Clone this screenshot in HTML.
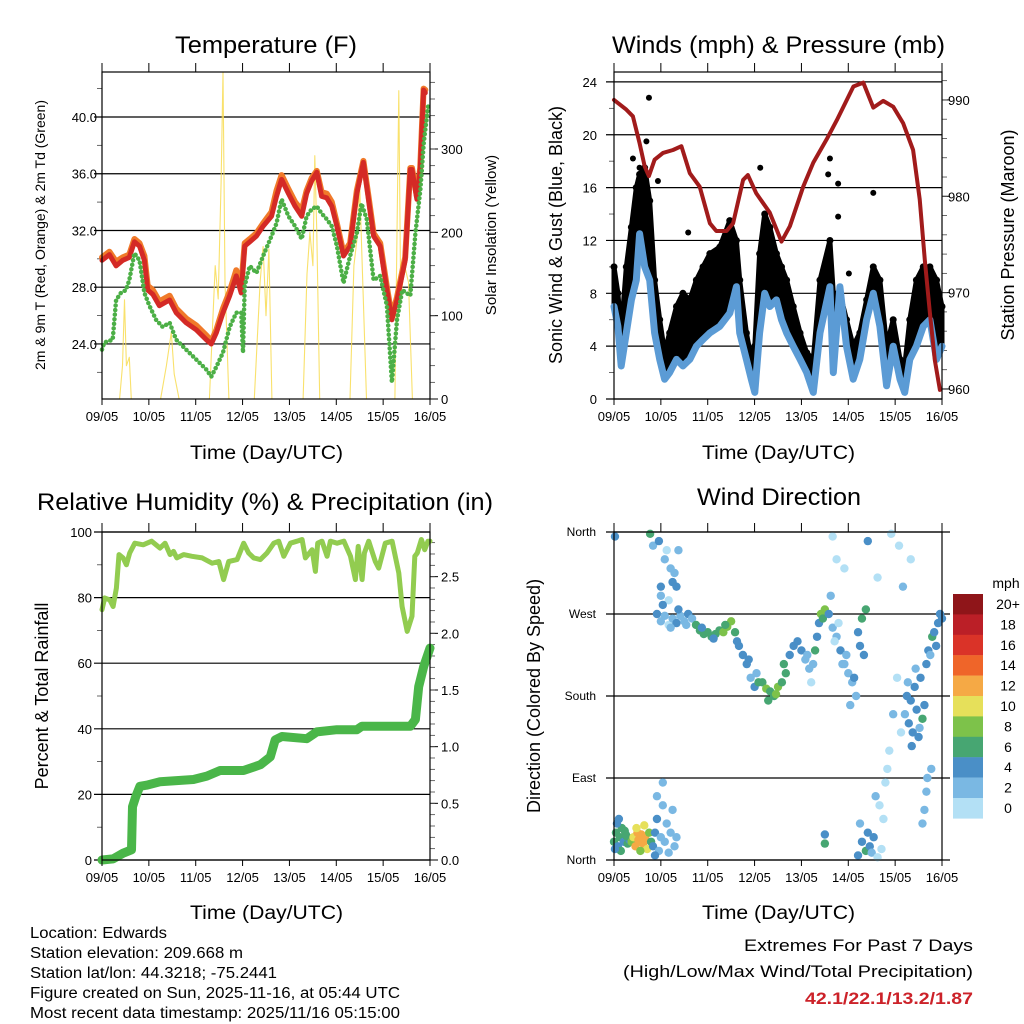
<!DOCTYPE html>
<html><head><meta charset="utf-8"><style>
html,body{margin:0;padding:0;background:#fff;}
svg{display:block;font-family:"Liberation Sans",sans-serif;}
</style></head><body>
<svg id="chart" width="1024" height="1024" viewBox="0 0 1024 1024" xmlns="http://www.w3.org/2000/svg">
<rect x="0" y="0" width="1024" height="1024" fill="#fff"/>
<g id="layer"></g>
<g font-size="24" fill="#000" lengthAdjust="spacingAndGlyphs">
<text x="175" y="53" textLength="182" lengthAdjust="spacingAndGlyphs">Temperature (F)</text>
<text x="612" y="53" textLength="333" lengthAdjust="spacingAndGlyphs">Winds (mph) &amp; Pressure (mb)</text>
<text x="37" y="510" textLength="456" lengthAdjust="spacingAndGlyphs">Relative Humidity (%) &amp; Precipitation (in)</text>
<text x="697" y="505" textLength="164" lengthAdjust="spacingAndGlyphs">Wind Direction</text>
</g>
<g font-size="19">
<text x="190" y="459" textLength="153" lengthAdjust="spacingAndGlyphs">Time (Day/UTC)</text>
<text x="702" y="459" textLength="153" lengthAdjust="spacingAndGlyphs">Time (Day/UTC)</text>
<text x="190" y="919" textLength="153" lengthAdjust="spacingAndGlyphs">Time (Day/UTC)</text>
<text x="702" y="919" textLength="153" lengthAdjust="spacingAndGlyphs">Time (Day/UTC)</text>
</g>
<g font-size="18" text-anchor="middle">
<text transform="translate(45,235) rotate(-90)" font-size="14">2m &amp; 9m T (Red, Orange) &amp; 2m Td (Green)</text>
<text transform="translate(496,235) rotate(-90)" font-size="15">Solar Insolation (Yellow)</text>
<text transform="translate(562,235) rotate(-90)">Sonic Wind &amp; Gust (Blue, Black)</text>
<text transform="translate(1014,235) rotate(-90)">Station Pressure (Maroon)</text>
<text transform="translate(48,696) rotate(-90)">Percent &amp; Total Rainfall</text>
<text transform="translate(540,696) rotate(-90)">Direction (Colored By Speed)</text>
</g>
<g font-size="15.5">
<text x="30" y="938" textLength="137" lengthAdjust="spacingAndGlyphs">Location: Edwards</text>
<text x="30" y="958" textLength="213" lengthAdjust="spacingAndGlyphs">Station elevation: 209.668 m</text>
<text x="30" y="978" textLength="247" lengthAdjust="spacingAndGlyphs">Station lat/lon: 44.3218; -75.2441</text>
<text x="30" y="998" textLength="370" lengthAdjust="spacingAndGlyphs">Figure created on Sun, 2025-11-16, at 05:44 UTC</text>
<text x="30" y="1018" textLength="370" lengthAdjust="spacingAndGlyphs">Most recent data timestamp: 2025/11/16 05:15:00</text>
</g>
<g font-size="17">
<text x="744" y="951" textLength="229" lengthAdjust="spacingAndGlyphs">Extremes For Past 7 Days</text>
<text x="623" y="977" textLength="350" lengthAdjust="spacingAndGlyphs">(High/Low/Max Wind/Total Precipitation)</text>
<text x="805" y="1004" textLength="168" lengthAdjust="spacingAndGlyphs" fill="#cc2229" font-weight="bold">42.1/22.1/13.2/1.87</text>
</g>
</svg>
<script>
// ---------- data ----------
const dayLabels = ["09/05","10/05","11/05","12/05","13/05","14/05","15/05","16/05"];
const tempTimes = [0,3.8,7.2,10.6,14,16.6,19.2,21.7,23.4,26,29.4,34.6,38,43.1,48.3,53.4,56,58.6,62,65.4,68.8,71.3,73.1,75.7,79.1,82.5,86.8,89.4,92,95.5,98.9,102.3,104.8,107.4,110,112.5,115.1,117.7,120.3,123.7,127.1,130.5,133.9,136.5,139.1,142.5,145.9,148.5,151.1,155.3,157.9,158.8,161.3,163,164.7,165.6];
const tempRed = [29.9,30.3,29.5,29.9,30.1,31.2,30.9,29.9,27.8,27.5,26.7,27.1,26.2,25.5,25.0,24.3,24.0,24.8,26.2,27.4,28.8,27.6,30.9,31.2,31.6,32.3,33.0,34.4,35.6,34.6,33.7,33.0,34.6,35.5,36.1,34.4,34.3,33.7,32.3,30.2,30.9,34.6,36.8,34.2,31.6,30.9,27.8,25.7,27.1,29.9,36.3,36.3,34.2,36.3,41.9,41.7];
const tempOrange = [30.1,30.5,29.8,30.1,30.3,31.4,31.1,30.2,28.1,27.8,27.0,27.4,26.5,25.8,25.3,24.6,24.2,25.0,26.5,27.7,29.2,28.0,31.1,31.4,31.8,32.5,33.3,34.8,35.9,34.9,34.0,33.4,34.8,35.7,36.2,34.7,34.6,34.0,32.5,30.4,31.1,34.8,36.9,34.4,31.8,31.1,28.0,25.9,27.3,30.1,36.4,36.4,34.4,36.4,42.0,41.9];
const dewTimes = [0,1.2,5.5,7.2,9.7,12.3,14,16.6,19.2,21.7,24.3,27.7,31.1,34.6,38,43.1,48.3,53.4,56,58.6,62,65.4,68.8,71.3,72.2,73.1,75.7,79.1,82.5,86.8,89.4,92,95.5,98.9,102.3,104.8,107.4,110,112.5,115.1,117.7,120.3,123.7,127.1,130.5,132.9,135.6,139.1,142.5,145.9,148.5,151.1,153.8,157.9,160.5,163.1,164.8,167.1];
const dewGreen = [23.6,24.1,24.3,27.1,27.6,27.8,28.5,30.4,29.9,27.6,26.7,25.7,25.2,25.5,24.3,23.6,22.9,22.2,21.7,22.4,23.4,25.2,26.2,26.2,23.4,28.1,29.5,29.0,30.2,31.6,32.5,34.2,33.0,32.3,31.4,33.0,33.5,33.7,33.2,32.8,32.3,30.9,28.3,30.2,31.8,33.9,32.8,28.5,28.8,26.7,21.3,25.7,27.8,27.4,31.8,34.9,38.2,40.8];
const solarTimes = [0,9,10.5,11.5,12.5,14,15,30,33,35.5,37,39.5,55,58,59.5,61,62,63,65,78,81,82.5,84,85.5,87,103,105,106.5,108,109,110,111.5,127,129,131,132,133,135.5,150,152,153,155,157,159,168];
const solarVals = [0,0,40,119,40,50,0,0,40,80,30,0,0,160,120,260,392,140,0,0,140,183,100,180,0,0,150,200,160,292,200,0,0,160,200,256,180,0,0,370,120,160,140,0,0];

const windTimes = [0,2,3.7,6.3,8.9,11.4,13.1,15.7,18.3,20.8,23.4,25.9,28.5,32,35.3,38.8,42.2,45.6,49.1,54.2,59.3,62.7,64.4,67.8,70.3,72.1,74.6,77.2,79.8,83.2,85.8,88.4,91.8,95.3,98.7,102.1,105.5,110.6,112.3,115.7,119.1,122.5,125.9,129.4,132.8,136.2,139.6,143,146.5,148.9,151.5,154.9,158.4,161.8,165.2,168];
const windSustained = [7,5.5,2.5,5,7.5,9,12.5,10,9,5,3,1.5,2,3,2.5,3,4,4.5,5,5.5,6.5,8.5,5,3,1.5,0.5,5,8,7,7.5,6,5,4,3,2,0.5,5,8.5,2,8.5,4,1.5,3,6,8,5.5,1,4,1.5,0.5,3,4,5.5,6,3,4];
const windGust = [10,8,5,10,13,16,17,17.5,15,9,6,3.5,5,7,8,7.5,9,10,11,11.5,13.5,12,9,5,3,4,11,14,13,11,10,9,7,5,3.5,3,9,12,8,8,6,4,5,7.5,10,9,4,6,3,2.5,6,9,10,10,9,7];
const gustExtraTimes = [17.9,13.1,22.5,74.9,110.6,109.7,114.8,132.8,114.8,38,120.3,9.7,16.6];
const gustExtraVals = [22.8,17.5,16.5,17.5,18.2,17,16.3,15.6,13.8,12.6,9.5,18.2,19.5];
const pressTimes = [0,6.3,9.7,13.1,15.7,17.9,20.8,25.1,30.2,34.5,38.8,43.9,49.1,52.4,57.6,61,66.1,68.6,72.9,79.8,85.8,90.1,96.9,102.1,108.9,114.1,122.6,127.7,132.8,137.9,143,148.1,153.2,156.6,159.2,161.8,164.3,166.9];
const pressVals = [990,989,988.3,985.5,983.1,982.1,983.8,984.5,984.8,985.2,982.4,981,977.2,976.4,976.4,977.2,981.7,982.2,980.3,978.3,975.3,976.9,981,983.5,985.9,987.9,991.4,991.8,989.2,989.9,989.3,987.6,984.8,979.7,973.4,967.9,963,959.9];

const rhTimes = [0,1.4,4,5.7,7.4,8.7,10.8,12.5,14.2,16.8,21.1,25.4,29.7,32.3,34.9,36.6,38.3,41.8,46.1,51.3,56.4,59.8,62.3,64.9,69.2,72.6,75.1,77.7,81.1,84.5,88,90.5,93.1,96.5,99.9,102.5,104.2,107.6,109.3,110.5,112.7,115.3,117,120.4,123.9,127.3,129.8,131.2,133.2,134.4,136.6,140,141.7,145.1,148.6,152,153.7,156.3,158.8,160.2,161.5,163.6,165.3,167,168];
const rhVals = [76.3,79.9,79.3,77.3,82.9,93.1,92.1,90,93.6,96.6,96.1,97.2,95.1,96.6,93.1,94.1,92.1,93.1,92.6,92.1,90.5,91,85.5,91,91.6,96.6,93.6,92.1,91.6,93.6,96.6,97.2,92.6,96.6,97.2,97.7,92.1,94.6,88,96.6,97.2,92.6,97.2,96.6,97.2,92.6,85.5,95.6,85.5,93.6,97.2,91,89,96.6,97.2,87.5,77.3,69.7,74.3,92.6,93.6,97.7,94.6,97.2,97.2];
const rainTimes = [0,5.7,10.8,15.1,15.6,17.3,19.4,22.8,29.7,46.8,53.7,60.5,72.5,81.1,86.2,88.7,92.2,104.9,110,120.3,130.5,133.1,157.9,160.5,162.2,164.8,168];
const rainVals = [0,0.01,0.06,0.09,0.47,0.56,0.65,0.66,0.69,0.71,0.74,0.79,0.79,0.84,0.91,1.06,1.09,1.07,1.13,1.15,1.15,1.18,1.18,1.24,1.53,1.71,1.87];

const dirTimes = [0,1,2,3,4,5,6,7,8,1.5,3.5,5.5,0.5,2.5,6.5, 9,10,11,12,13,14,15,16,17,18,11.5,13.5,15.5,12.5,19, 20,21,22,23,24,25,26,27,28,22,25,29,30,31,32, 0.5,18.5,20,23,24,26,27,29,30,31,33,24,28,32, 22,24,26,28,30,32,34,36,38,40,25,29,33,37, 42,44,46,48,50,52,54,56,58,60,62,64,66,45,51,57,63, 68,70,72,74,69,73, 76,78,80,82,84,86,88,79,83,87, 90,92,94,96, 98,100,102,101,99, 103,104,105,106,107,108, 110,112,114,116,118,120,122,124,111,115,119,123,113,117,121, 125,126,127,128,129, 112,114,118,130,135,142,146,148,152, 125,127,129,130,131,132,133,135,137,126, 136,138,140,134,139, 141,143,145,147, 149,150,151,152,153,154,155,156,157,158,159,150.5,152.5,154.5,156.5, 160,161,162,163,164,165,166,167,168,162.5, 158,159,160,160.5, 108,108,21];
const dirDegs = [20,30,15,25,35,20,28,18,22,40,10,32,12,45,26, 20,25,15,30,20,28,18,24,12,30,35,10,38,22,20, 15,30,45,10,25,60,20,40,8,70,85,30,55,15,25, 355,358,345,350,300,330,340,320,305,315,340,290,285,300, 270,262,268,258,265,260,268,262,270,265,280,255,275,258, 258,252,248,250,245,248,252,250,256,262,250,235,225,255,243,258,240, 215,200,190,195,220,205, 195,188,185,180,190,195,205,175,182,215, 225,235,240,230, 220,210,215,195,225, 230,245,260,270,265,275, 270,255,245,230,215,205,195,180,290,260,225,200,240,215,170, 250,235,265,225,275, 355,330,320,350,310,358,345,300,330, 5,20,10,30,15,8,25,3,12,40, 60,45,100,70,85, 120,160,200,140, 160,180,150,175,140,190,165,135,200,155,170,195,125,210,145, 215,230,225,245,250,235,260,270,265,100, 40,55,75,90, 18,28,5];
const dirSpeeds = [6,6,4,6,6,4,6,6,4,4,6,6,4,4,6, 8,10,12,12,12,13,12,12,10,8,10,8,10,13,6, 4,4,4,2,2,2,2,2,2,2,2,2,2,2,2, 4,6,2,4,4,2,0,2,4,2,2,2,0,4, 4,2,2,0,2,4,2,2,4,2,4,2,4,2, 6,6,6,6,6,6,6,8,8,8,6,4,4,4,4,6,4, 4,2,4,6,4,2, 6,8,6,6,8,6,6,6,8,6, 4,4,4,4, 2,2,2,0,2, 6,4,4,8,6,8, 4,2,2,4,2,2,2,2,2,0,2,4,0,2,2, 4,4,6,4,6, 0,0,0,4,0,0,0,2,0, 4,4,6,4,4,2,4,0,0,2, 0,0,0,2,0, 0,2,0,0, 2,4,4,4,4,4,4,4,4,6,4,2,4,2,2, 4,4,2,6,4,4,4,4,4,2, 2,2,2,2, 6,4,4];
const speedLabels = ["20+","18","16","14","12","10","8","6","4","2","0"];
const speedColors = ["#8f1519","#bb1f27","#da3328","#ef6529","#f5a945","#e6e05a","#7dc24a","#47a672","#4a8fc7","#7ab8e3","#b3e0f5"];

// ---------- helpers ----------
const NS = "http://www.w3.org/2000/svg";
const layer = document.getElementById("layer");
function mk(tag, parent){ const e=document.createElementNS(NS,tag); (parent||layer).appendChild(e); return e; }
function scale(d0,d1,r0,r1){ return v => r0+(v-d0)*(r1-r0)/(d1-d0); }
function pts(ts,vs,xs,ys){ return ts.map((t,i)=>xs(t).toFixed(1)+","+ys(vs[i]).toFixed(1)).join(" "); }
function line(parent,ts,vs,xs,ys,color,w,name,extra){
  const p=mk("polyline",parent);
  
  
  p.setAttribute("points",pts(ts,vs,xs,ys));
  p.setAttribute("fill","none"); p.setAttribute("stroke",color); p.setAttribute("stroke-width",w);
  p.setAttribute("stroke-linejoin","round"); p.setAttribute("stroke-linecap","round");
  if(extra) p.setAttribute("stroke-dasharray",extra);
  return p;
}
function seg(parent,x1,y1,x2,y2,w,color){
  const l=mk("line",parent);
  l.setAttribute("x1",x1); l.setAttribute("y1",y1); l.setAttribute("x2",x2); l.setAttribute("y2",y2);
  l.setAttribute("stroke",color||"#000"); l.setAttribute("stroke-width",w||1);
  return l;
}
function txt(parent,x,y,s,anchor,size){
  const t=mk("text",parent);
  t.setAttribute("x",x); t.setAttribute("y",y); t.setAttribute("text-anchor",anchor||"middle");
  t.setAttribute("font-size",size||13); t.textContent=s; return t;
}
function panel(name,P){
  const g=mk("g");
  
  
  return g;
}
function frame(g,P,name){
  const r=mk("rect",g);
  
  
  r.setAttribute("x",P.x0); r.setAttribute("y",P.y0); r.setAttribute("width",P.x1-P.x0); r.setAttribute("height",P.y1-P.y0);
  r.setAttribute("fill","none"); r.setAttribute("stroke","#000"); r.setAttribute("stroke-width",1.2);
}
function xAxis(g,P,xs,name){
  const a=mk("g",g);
  
  
  dayLabels.forEach((d,i)=>{
    const x=xs(i*24);
    seg(a,x,P.y0-9,x,P.y0,1);
    seg(a,x,P.y1,x,P.y1+6,1);
    const t=txt(a,x,P.y1+22,d,"middle",13);
    
    
  });
}
function yAxis(g,P,ys,majors,minors,labels,side,grid,name,lx){
  const a=mk("g",g);
  
  
  majors.forEach((v,i)=>{
    const y=ys(v);
    if(side==="left"){
      if(grid) seg(a,P.x0-8,y,P.x1,y,1.2); else seg(a,P.x0-8,y,P.x0,y,1);
      const t=txt(a,lx,y+5,labels[i],"end",13);
      
      
    } else {
      seg(a,P.x1,y,P.x1+8,y,1);
      const t=txt(a,lx,y+5,labels[i],"start",13);
      
      
    }
  });
  minors.forEach(v=>{
    const y=ys(v);
    if(side==="left") seg(a,P.x0-5,y,P.x0,y,0.8,"#444"); else seg(a,P.x1,y,P.x1+5,y,0.8,"#444");
  });
}
function range(a,b,s){ const r=[]; for(let v=a;v<=b+1e-9;v+=s) r.push(+v.toFixed(3)); return r; }

// ---------- Panel 1: Temperature ----------
(function(){
  const P={x0:102,x1:430,y0:72,y1:399};
  const g=panel("temperature-panel",P);
  const xs=scale(0,168,P.x0,P.x1), ys=scale(20.12,43.17,P.y1,P.y0), ys2=scale(0,392.4,P.y1,P.y0);
  yAxis(g,P,ys,[24,28,32,36,40],[22,26,30,34,38,42],["24.0","28.0","32.0","36.0","40.0"],"left",true,"temp-y-axis",97);
  yAxis(g,P,ys2,[0,100,200,300],range(20,380,20),["0","100","200","300"],"right",false,"solar-y-axis",441);
  line(g,solarTimes,solarVals,xs,ys2,"#f8dc52",1.1,"solar-insolation-line").setAttribute("opacity","0.85");
  line(g,tempTimes,tempOrange,xs,ys,"#f07a2a",6,"temp-9m-orange-line");
  line(g,tempTimes,tempRed,xs,ys,"#d42a26",5,"temp-2m-red-line");
  line(g,dewTimes,dewGreen,xs,ys,"#4caf46",4.5,"dewpoint-green-line","0.1 4.5");
  frame(g,P,"temperature-plot-frame");
  xAxis(g,P,xs,"temp-x-axis");
})();

// ---------- Panel 2: Winds & Pressure ----------
(function(){
  const P={x0:614,x1:942,y0:72,y1:399};
  const g=panel("winds-panel",P);
  const xs=scale(0,168,P.x0,P.x1), ys=scale(0,24.75,P.y1,P.y0), ys2=scale(958.96,992.9,P.y1,P.y0);
  yAxis(g,P,ys,[0,4,8,12,16,20,24],[2,6,10,14,18,22],["0","4","8","12","16","20","24"],"left",true,"wind-y-axis",597);
  yAxis(g,P,ys2,[960,970,980,990],range(962,992,2),["960","970","980","990"],"right",false,"pressure-y-axis",948);
  const area=mk("polygon",g);
  
  
  const up=windTimes.map((t,i)=>xs(t).toFixed(1)+","+ys(windGust[i]).toFixed(1));
  const dn=windTimes.map((t,i)=>xs(t).toFixed(1)+","+ys(windSustained[i]).toFixed(1)).reverse();
  area.setAttribute("points",up.concat(dn).join(" "));
  area.setAttribute("fill","#000");
  area.setAttribute("stroke","#000");
  area.setAttribute("stroke-width","5");
  area.setAttribute("stroke-linejoin","round");
  windTimes.forEach((t,i)=>{
    const c=mk("circle",g);
    
    
    c.setAttribute("cx",xs(t)); c.setAttribute("cy",ys(windGust[i])); c.setAttribute("r",3.5); c.setAttribute("fill","#000");
  });
  gustExtraTimes.forEach((t,i)=>{
    const c=mk("circle",g);
    
    
    c.setAttribute("cx",xs(t)); c.setAttribute("cy",ys(gustExtraVals[i])); c.setAttribute("r",3); c.setAttribute("fill","#000");
  });
  line(g,windTimes,windSustained,xs,ys,"#5b9bd5",7,"sustained-wind-line");
  line(g,pressTimes,pressVals,xs,ys2,"#a11b1b",4,"pressure-line");
  frame(g,P,"winds-plot-frame");
  xAxis(g,P,xs,"winds-x-axis");
})();

// ---------- Panel 3: Humidity & Precip ----------
(function(){
  const P={x0:102,x1:430,y0:532,y1:860};
  const g=panel("humidity-panel",P);
  const xs=scale(0,168,P.x0,P.x1), ys=scale(0,100,P.y1,P.y0), ys2=scale(0,2.894,P.y1,P.y0);
  yAxis(g,P,ys,[0,20,40,60,80,100],[10,30,50,70,90],["0","20","40","60","80","100"],"left",true,"humidity-y-axis",92);
  yAxis(g,P,ys2,[0,0.5,1,1.5,2,2.5],range(0.1,2.8,0.1),["0.0","0.5","1.0","1.5","2.0","2.5"],"right",false,"rain-y-axis",441);
  line(g,rhTimes,rhVals,xs,ys,"#92cc50",5,"relative-humidity-line");
  line(g,rainTimes,rainVals,xs,ys2,"#4ab649",9,"total-rainfall-line");
  frame(g,P,"humidity-plot-frame");
  xAxis(g,P,xs,"humidity-x-axis");
})();

// ---------- Panel 4: Wind direction ----------
(function(){
  const P={x0:614,x1:942,y0:532,y1:860};
  const g=panel("wind-direction-panel",P);
  const xs=scale(0,168,P.x0,P.x1), ys=scale(0,360,P.y1,P.y0);
  const dirTicks=[0,90,180,270,360], dirNames=["North","East","South","West","North"];
  const a=mk("g",g);
  
  
  dirTicks.forEach((v,i)=>{
    seg(a,P.x0-8,ys(v),P.x1+8,ys(v),1.2);
    const t=txt(a,596,ys(v)+4,dirNames[i],"end",12);
    
    
  });
  dirTimes.forEach((t,i)=>{
    const c=mk("circle",g);
    
    
    let bin=Math.min(10,Math.floor(dirSpeeds[i]/2));
    c.setAttribute("cx",xs(t)); c.setAttribute("cy",ys(dirDegs[i])); c.setAttribute("r",4.2);
    c.setAttribute("fill",speedColors[10-bin]);
  });
  frame(g,P,"direction-plot-frame");
  xAxis(g,P,xs,"direction-x-axis");
  // legend
  const L=mk("g",g);
  
  
  const u=txt(L,1006,588,"mph","middle",14);
  
  
  speedLabels.forEach((s,i)=>{
    const r=mk("rect",L);
    
    
    r.setAttribute("x",953); r.setAttribute("y",594+i*20.4); r.setAttribute("width",30); r.setAttribute("height",20.6);
    r.setAttribute("fill",speedColors[i]);
    const t=txt(L,1008,594+i*20.4+15,s,"middle",14);
    
    
  });
})();
</script>
</body></html>
